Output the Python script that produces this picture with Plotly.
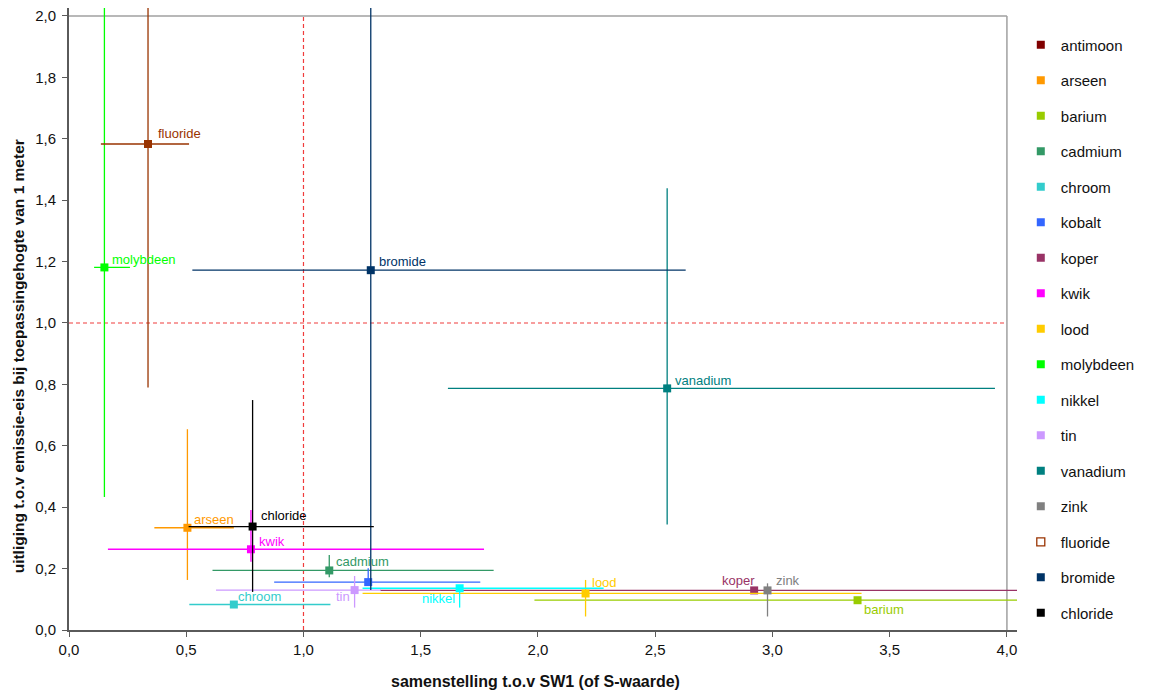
import plotly.graph_objects as go

# Stoffen, in legend order
names = ["antimoon", "arseen", "barium", "cadmium", "chroom", "kobalt", "koper", "kwik",
         "lood", "molybdeen", "nikkel", "tin", "vanadium", "zink", "fluoride", "bromide", "chloride"]
colors = ["#800000", "#FF9900", "#99CC00", "#339966", "#33CCCC", "#3366FF", "#993366", "#FF00FF",
          "#FFCC00", "#00FF00", "#00FFFF", "#CC99FF", "#008080", "#808080", "#993300", "#003366", "#000000"]

# samenstelling t.o.v. SW1 (median) with low/high bounds
x_mid = [None, 0.505, 3.363, 1.110, 0.703, 1.276, 2.922, 0.776,
         2.203, 0.151, 1.666, 1.218, 2.551, 2.979, 0.337, 1.287, 0.783]
x_low = [None, 0.364, 1.985, 0.612, 0.513, 0.875, 1.327, 0.166,
         1.252, 0.107, 1.252, 0.627, 1.616, 2.979, 0.136, 0.526, 0.510]
x_high = [None, 0.703, 4.300, 1.811, 1.115, 1.754, 4.300, 1.770,
          3.380, 0.260, 2.280, 1.330, 3.949, 2.979, 0.512, 2.630, 1.300]

# uitliging t.o.v. emissie-eis (median) with low/high bounds
y_mid = [None, 0.333, 0.097, 0.194, 0.083, 0.156, 0.129, 0.263,
         0.119, 1.181, 0.136, 0.130, 0.787, 0.129, 1.583, 1.172, 0.337]
y_low = [None, 0.163, 0.097, 0.172, 0.083, 0.156, 0.129, 0.222,
         0.044, 0.433, 0.073, 0.073, 0.344, 0.044, 0.790, 0.130, 0.124]
y_high = [None, 0.654, 0.097, 0.244, 0.083, 0.201, 0.129, 0.391,
          0.163, 2.200, 0.145, 0.176, 1.439, 0.152, 2.200, 2.200, 0.749]

x_ticks = [0, 0.5, 1.0, 1.5, 2.0, 2.5, 3.0, 3.5, 4.0]
y_ticks = [0, 0.2, 0.4, 0.6, 0.8, 1.0, 1.2, 1.4, 1.6, 1.8, 2.0]

# label placement next to each point: (xanchor, xshift, yshift)
label_pos = {
    "arseen": ("left", 5, 8), "barium": ("left", 4, -9), "cadmium": ("left", 5, 9),
    "chroom": ("left", 2, 8), "kobalt": None, "koper": ("right", 3, 10),
    "kwik": ("left", 6, 8), "lood": ("left", 4, 11), "molybdeen": ("left", 6, 8),
    "nikkel": ("right", -3, -10), "tin": ("right", -3, -6), "vanadium": ("left", 6, 8),
    "zink": ("left", 6, 10), "fluoride": ("left", 8, 11), "bromide": ("left", 6, 9),
    "chloride": ("left", 6, 11), "antimoon": None,
}

FONT = "Liberation Sans, Arial, sans-serif"
fig = go.Figure()
annotations = []

for i, name in enumerate(names):
    c = colors[i]
    if x_mid[i] is None:
        fig.add_trace(go.Scatter(x=[None], y=[None], mode="markers", name=name,
                                 legendgroup=name, legendrank=i,
                                 marker=dict(symbol="square", size=8, color=c)))
        continue
    is_fluoride = name == "fluoride"
    fig.add_trace(go.Scatter(
        x=[x_mid[i]], y=[y_mid[i]], mode="markers", name=name,
        legendgroup=name, legendrank=i, showlegend=not is_fluoride,
        marker=dict(symbol="square", size=8, color=c, line=dict(width=0)),
        error_x=dict(type="data", symmetric=False,
                     array=[x_high[i] - x_mid[i]], arrayminus=[x_mid[i] - x_low[i]],
                     color=c, thickness=1.3, width=0),
        error_y=dict(type="data", symmetric=False,
                     array=[y_high[i] - y_mid[i]], arrayminus=[y_mid[i] - y_low[i]],
                     color=c, thickness=1.3, width=0),
    ))
    if is_fluoride:
        # legend entry drawn as an open square
        fig.add_trace(go.Scatter(x=[None], y=[None], mode="markers", name=name,
                                 legendgroup=name, legendrank=i,
                                 marker=dict(symbol="square", size=8, color="white",
                                             line=dict(color=c, width=1.3))))
    pos = label_pos.get(name)
    if pos:
        xa, xs, ys = pos
        annotations.append(dict(x=x_mid[i], y=y_mid[i], xref="x", yref="y", text=name,
                                showarrow=False, xanchor=xa, yanchor="middle",
                                xshift=xs, yshift=ys,
                                font=dict(family=FONT, size=13, color=c)))

# axis titles
annotations.append(dict(text="<b>uitliging t.o.v emissie-eis bij toepassingehogte van 1 meter</b>",
                        xref="paper", yref="paper", x=-0.0538, y=0.44, textangle=-90,
                        showarrow=False, xanchor="center", yanchor="middle",
                        font=dict(family=FONT, size=15.5, color="#111")))
annotations.append(dict(text="<b>samenstelling t.o.v SW1 (of S-waarde)</b>",
                        xref="paper", yref="paper", x=0.492, y=-0.0836,
                        showarrow=False, xanchor="center", yanchor="middle",
                        font=dict(family=FONT, size=16, color="#111")))

shapes = [
    # plot-area frame (top and right)
    dict(type="line", xref="x", yref="y", x0=0, x1=4, y0=2, y1=2,
         line=dict(color="#A0A0A0", width=1.5), layer="below"),
    dict(type="line", xref="x", yref="y", x0=4, x1=4, y0=0, y1=2,
         line=dict(color="#A0A0A0", width=1.5), layer="below"),
    # norm lines at 1,0
    dict(type="line", xref="x", yref="y", x0=1, x1=1, y0=0, y1=2,
         line=dict(color="#F03C3C", width=1.2, dash="4px,3px"), layer="below"),
    dict(type="line", xref="x", yref="y", x0=0, x1=4, y0=1, y1=1,
         line=dict(color="#F03C3C", width=1.2, dash="4px,3px"), layer="below"),
]

axis_common = dict(showgrid=False, zeroline=False, showline=True, linecolor="#5A5A5A",
                   linewidth=2, ticks="outside", ticklen=5, tickcolor="#5A5A5A", tickwidth=1,
                   tickformat=".1f", tickfont=dict(family=FONT, size=15, color="#111"))

fig.update_layout(
    width=1153, height=694,
    margin=dict(l=69, r=136, t=8, b=64),
    paper_bgcolor="white", plot_bgcolor="white",
    separators=",.",
    xaxis=dict(range=[0, 4.043], tickvals=x_ticks, **axis_common),
    yaxis=dict(range=[0, 2.026], tickvals=y_ticks, ticklabelstandoff=3, **axis_common),
    showlegend=True,
    legend=dict(x=1.004, xanchor="left", y=0.967, yanchor="top",
                traceorder="grouped", tracegroupgap=13,
                font=dict(family=FONT, size=15, color="#111"),
                bgcolor="rgba(0,0,0,0)"),
    annotations=annotations,
    shapes=shapes,
)

fig.write_html("out.html")
